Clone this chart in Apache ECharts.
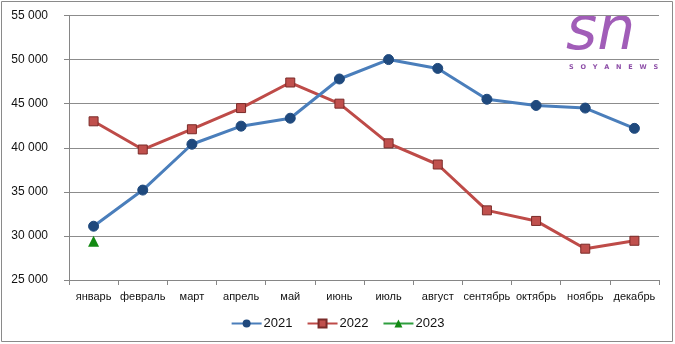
<!DOCTYPE html>
<html><head><meta charset="utf-8">
<script src="https://cdn.jsdelivr.net/npm/echarts@6/dist/echarts.min.js"></script>
<style>html,body{margin:0;padding:0;background:#fff}#c{width:675px;height:344px}</style>
</head><body><div id="c"></div>
<script>
const months = ['январь','февраль','март','апрель','май','июнь','июль','август','сентябрь','октябрь','ноябрь','декабрь'];
const s2021 = [31100,35200,40400,42450,43350,47800,50000,49000,45500,44800,44500,42200];
const s2022 = [43000,39800,42100,44500,47400,45000,40500,38100,32900,31700,28550,29450];
const s2023 = [29400,null,null,null,null,null,null,null,null,null,null,null];
const yTicks = {min:25000,max:55000,interval:5000};

const chart = echarts.init(document.getElementById('c'));
const fmt = v => String(v).replace(/\B(?=(\d{3})+(?!\d))/g,' ');
chart.setOption({
  animation:false,
  textStyle:{fontFamily:'Liberation Sans'},
  grid:{left:69,right:16,top:15.5,bottom:64,containLabel:false},
  xAxis:{type:'category',data:months,boundaryGap:true,
    axisLine:{lineStyle:{color:'#868686',width:1}},
    axisTick:{show:true,length:5,lineStyle:{color:'#868686'}},
    axisLabel:{color:'#111',fontSize:11,fontWeight:500,margin:11,interval:0}},
  yAxis:{type:'value',min:yTicks.min,max:yTicks.max,interval:yTicks.interval,
    axisLine:{show:true,lineStyle:{color:'#868686'}},
    axisTick:{show:true,length:5,lineStyle:{color:'#868686'}},
    splitLine:{lineStyle:{color:'#8c8c8c',width:1}},
    axisLabel:{color:'#111',fontSize:12,margin:21,formatter:fmt}},
  legend:{bottom:9,left:'center',itemWidth:30,itemHeight:10,itemGap:14,
    textStyle:{fontSize:13,color:'#111',padding:[0,0,0,-3]},
    data:['2021','2022','2023']},
  graphic:[
    {type:'rect',position:[0,0],shape:{x:1.5,y:1.5,width:671,height:340},style:{fill:'none',stroke:'#8a8a8a',lineWidth:1},silent:true},
    {type:'text',position:[566,3],style:{text:'sn',font:'italic 60px "DejaVu Sans"',fill:'#A15DB8'}},
    {type:'text',position:[569,64],style:{text:'S   O   Y   A   N   E   W   S',font:'bold 6.5px "DejaVu Sans"',fill:'#8E4FA8'}}
  ],
  series:[
    {name:'2021',type:'line',data:s2021,symbol:'circle',symbolSize:10,
      lineStyle:{color:'#4A7EBB',width:3},itemStyle:{color:'#1F497D',borderColor:'#1F497D'},z:3},
    {name:'2022',type:'line',data:s2022,symbol:'rect',symbolSize:9,
      lineStyle:{color:'#BE4B48',width:3},itemStyle:{color:'#C0504D',borderColor:'#7A2B29',borderWidth:1},z:2},
    {name:'2023',type:'line',data:s2023,symbol:'triangle',symbolSize:11,
      lineStyle:{color:'#2E9E3E',width:3},itemStyle:{color:'#138A13'},z:4}
  ]
});
</script></body></html>
